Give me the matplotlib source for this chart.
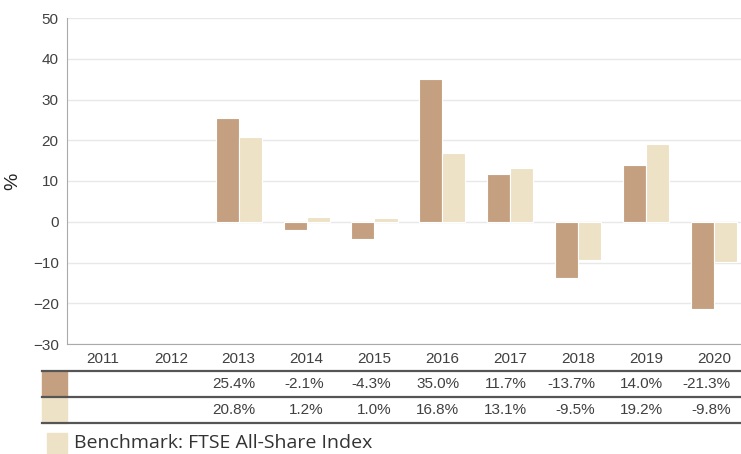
import matplotlib
matplotlib.use('Agg')
import matplotlib.pyplot as plt
import matplotlib.transforms as mtransforms
from matplotlib.patches import Rectangle
import numpy as np

# Calendar year performance (%)
years = ['2011', '2012', '2013', '2014', '2015', '2016', '2017', '2018', '2019', '2020']
fund = [None, None, 25.4, -2.1, -4.3, 35.0, 11.7, -13.7, 14.0, -21.3]
bench = [None, None, 20.8, 1.2, 1.0, 16.8, 13.1, -9.5, 19.2, -9.8]
bench_name = 'Benchmark: FTSE All-Share Index'

fund_col = '#C4A080'
bench_col = '#EEE2C6'
text_col = '#404040'

plt.rcParams['font.family'] = ['Liberation Sans', 'DejaVu Sans']

W, H = 741, 454
fig = plt.figure(figsize=(W / 100, H / 100), dpi=100)

def fx(px):
    return px / W

def fy(py):
    return 1 - py / H

# axes area in pixels: left 67, right 741, top 18, bottom 344
ax = fig.add_axes([fx(67), fy(344), fx(741 - 67), (344 - 18) / H])

x = np.arange(len(years))
w = 0.34
for i in range(len(years)):
    if fund[i] is not None:
        ax.bar(x[i] - w / 2, fund[i], w, color=fund_col, edgecolor='white', linewidth=0.8, zorder=3)
    if bench[i] is not None:
        ax.bar(x[i] + w / 2, bench[i], w, color=bench_col, edgecolor='white', linewidth=0.8, zorder=3)

ax.set_xlim(-0.53, 9.40)
ax.set_ylim(-30, 50)
ax.set_yticks(np.arange(-30, 51, 10))
ax.set_xticks(x)
ax.set_xticklabels(years)
ax.tick_params(axis='both', length=0, labelsize=11, colors=text_col)
ax.tick_params(axis='x', pad=6)
ax.tick_params(axis='y', pad=6)
ax.grid(axis='y', color='#e8e8e8', linewidth=1, zorder=0)
for s in ['top', 'right']:
    ax.spines[s].set_visible(False)
ax.spines['left'].set_color('#aaaaaa')
ax.spines['bottom'].set_color('#aaaaaa')
ax.set_ylabel('%', fontsize=14, color='#222222', labelpad=8)

# Data table below the chart
trans = mtransforms.blended_transform_factory(ax.transData, fig.transFigure)
for yy in [371, 397, 423]:
    fig.add_artist(plt.Line2D([fx(42), 1], [fy(yy), fy(yy)], color='#555555', linewidth=1.6))

fig.add_artist(Rectangle((fx(42), fy(397)), fx(25), 26 / H, color=fund_col, transform=fig.transFigure))
fig.add_artist(Rectangle((fx(42), fy(423)), fx(25), 26 / H, color=bench_col, transform=fig.transFigure))

for i in range(len(years)):
    if fund[i] is not None:
        ax.text(x[i] + 0.25, fy(384), f'{fund[i]:.1f}%', transform=trans, ha='right', va='center',
                fontsize=11, color=text_col)
    if bench[i] is not None:
        ax.text(x[i] + 0.25, fy(410), f'{bench[i]:.1f}%', transform=trans, ha='right', va='center',
                fontsize=11, color=text_col)

# Legend
fig.add_artist(Rectangle((fx(47), fy(453)), fx(20), 20 / H, color=bench_col, transform=fig.transFigure))
fig.text(fx(74), fy(443), bench_name, ha='left', va='center', fontsize=14, color='#333333',
         family=['Open Sans', 'DejaVu Sans'])

fig.savefig('out.png', dpi=100)
